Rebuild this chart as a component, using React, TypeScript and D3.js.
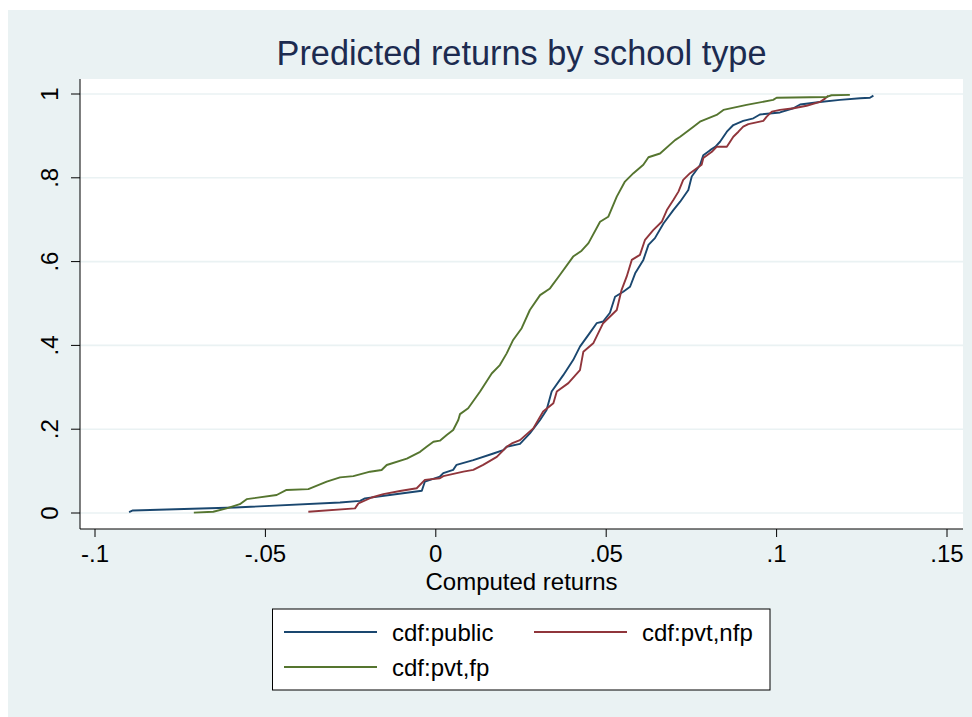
import React from "react";
import * as d3 from "d3";

const xTicks = [-0.1, -0.05, 0, 0.05, 0.1, 0.15];
const xTickLabels = ["-.1", "-.05", "0", ".05", ".1", ".15"];
const yTicks = [0, 0.2, 0.4, 0.6, 0.8, 1];
const yTickLabels = ["0", ".2", ".4", ".6", ".8", "1"];

const seriesNames = ["cdf:public", "cdf:pvt,nfp", "cdf:pvt,fp"];

const cdfPublic: [number, number][] = [
  [-0.09, 0.002], [-0.0889, 0.006], [-0.0589, 0.013], [-0.0281, 0.025], [-0.0222, 0.029],
  [-0.0208, 0.035], [-0.0135, 0.043], [-0.0041, 0.053], [-0.0032, 0.075], [0.0012, 0.087],
  [0.0022, 0.095], [0.0051, 0.103], [0.0061, 0.115], [0.011, 0.126], [0.0169, 0.142],
  [0.0198, 0.15], [0.0208, 0.158], [0.0247, 0.165], [0.0276, 0.19], [0.0306, 0.222],
  [0.0325, 0.246], [0.034, 0.29], [0.0374, 0.329], [0.0403, 0.365], [0.0423, 0.397],
  [0.0452, 0.43], [0.0472, 0.453], [0.0491, 0.457], [0.0511, 0.478], [0.0526, 0.516],
  [0.055, 0.528], [0.057, 0.54], [0.0585, 0.572], [0.0609, 0.604], [0.0624, 0.64],
  [0.0643, 0.656], [0.0668, 0.691], [0.0697, 0.723], [0.0717, 0.743], [0.0741, 0.771],
  [0.0751, 0.803], [0.0775, 0.83], [0.0785, 0.854], [0.0805, 0.866], [0.082, 0.874],
  [0.0834, 0.886], [0.0854, 0.91], [0.0873, 0.926], [0.0902, 0.936], [0.0932, 0.942],
  [0.0951, 0.951], [0.101, 0.956], [0.1049, 0.966], [0.1069, 0.975], [0.1127, 0.981],
  [0.1186, 0.986], [0.1245, 0.99], [0.1274, 0.991], [0.1284, 0.996],
];

const cdfPvtNfp: [number, number][] = [
  [-0.0374, 0.003], [-0.0237, 0.011], [-0.0227, 0.023], [-0.0188, 0.037], [-0.0154, 0.045],
  [-0.0105, 0.0525], [-0.0056, 0.059], [-0.0032, 0.079], [0.0012, 0.083], [0.0022, 0.088],
  [0.0081, 0.0986], [0.011, 0.103], [0.0139, 0.115], [0.0179, 0.134], [0.0208, 0.158],
  [0.0223, 0.166], [0.0247, 0.174], [0.0286, 0.202], [0.0315, 0.242], [0.0345, 0.262],
  [0.0355, 0.29], [0.0389, 0.31], [0.0423, 0.341], [0.0433, 0.385], [0.0462, 0.405],
  [0.0491, 0.453], [0.0531, 0.4845], [0.0545, 0.532], [0.056, 0.564], [0.0575, 0.604],
  [0.0599, 0.616], [0.0614, 0.652], [0.0638, 0.675], [0.0663, 0.695], [0.0678, 0.723],
  [0.0697, 0.747], [0.0712, 0.767], [0.0726, 0.795], [0.0746, 0.811], [0.078, 0.831],
  [0.0785, 0.847], [0.081, 0.862], [0.0824, 0.874], [0.0854, 0.874], [0.0873, 0.898],
  [0.0888, 0.91], [0.0902, 0.922], [0.0917, 0.928], [0.0961, 0.936], [0.0971, 0.946],
  [0.0986, 0.958], [0.101, 0.962], [0.105, 0.966], [0.1088, 0.972], [0.1127, 0.981],
  [0.1142, 0.989], [0.1152, 0.996],
];

const cdfPvtFp: [number, number][] = [
  [-0.071, 0.001], [-0.0653, 0.003], [-0.0614, 0.011], [-0.0575, 0.021], [-0.0555, 0.033],
  [-0.0467, 0.043], [-0.0438, 0.055], [-0.0374, 0.057], [-0.032, 0.075], [-0.0281, 0.085],
  [-0.0242, 0.088], [-0.0193, 0.0986], [-0.0159, 0.1026], [-0.0144, 0.1146], [-0.0085, 0.13],
  [-0.0046, 0.146], [-0.0027, 0.158], [-0.0007, 0.17], [0.0012, 0.1726], [0.0032, 0.186],
  [0.0051, 0.198], [0.0066, 0.222], [0.0071, 0.236], [0.0095, 0.25], [0.013, 0.29],
  [0.0164, 0.333], [0.0188, 0.353], [0.0208, 0.381], [0.0227, 0.413], [0.0252, 0.441],
  [0.0276, 0.4845], [0.0306, 0.52], [0.0335, 0.536], [0.0364, 0.568], [0.0403, 0.612],
  [0.0428, 0.626], [0.0448, 0.644], [0.0482, 0.695], [0.0506, 0.707], [0.0531, 0.755],
  [0.0555, 0.791], [0.058, 0.811], [0.0609, 0.831], [0.0624, 0.849], [0.0658, 0.858],
  [0.0702, 0.89], [0.0717, 0.898], [0.0756, 0.922], [0.0775, 0.934], [0.0824, 0.95],
  [0.0844, 0.962], [0.0912, 0.974], [0.099, 0.986], [0.1, 0.991], [0.1147, 0.993],
  [0.1161, 0.997], [0.1215, 0.998],
];

const COLORS = ["#1A476F", "#90353B", "#55752F"];
const FONT = "'Liberation Sans', Arial, Helvetica, sans-serif";

export default function App() {
  const W = 972;
  const H = 717;
  const plot = { left: 80, right: 963, top: 79, bottom: 529 };
  const x = d3.scaleLinear().domain([-0.1, 0.15]).range([95, 947]);
  const y = d3.scaleLinear().domain([0, 1]).range([513, 94]);
  const line = d3
    .line<[number, number]>()
    .x((d) => x(d[0]))
    .y((d) => y(d[1]))
    .curve(d3.curveLinear);

  const series = [cdfPublic, cdfPvtNfp, cdfPvtFp];
  const cx = (plot.left + plot.right) / 2;

  const legend = { x: 272.5, y: 609, w: 497.5, h: 81 };
  const legendItems = [
    { name: seriesNames[0], color: COLORS[0], kx: 284, ty: 632 },
    { name: seriesNames[1], color: COLORS[1], kx: 534, ty: 632 },
    { name: seriesNames[2], color: COLORS[2], kx: 284, ty: 667 },
  ];

  return (
    <svg
      width={W}
      height={H}
      style={{ position: "absolute", left: 0, top: 0 }}
      fontFamily={FONT}
    >
      <rect x={0} y={0} width={W} height={H} fill="#ffffff" />
      <rect x={8} y={10} width={W - 8} height={H - 10} fill="#EAF2F3" />
      <rect
        x={plot.left}
        y={plot.top}
        width={plot.right - plot.left}
        height={plot.bottom - plot.top}
        fill="#ffffff"
      />
      {yTicks.map((t) => (
        <line
          key={"g" + t}
          x1={plot.left}
          x2={plot.right}
          y1={y(t)}
          y2={y(t)}
          stroke="#EAF2F3"
          strokeWidth={1.6}
        />
      ))}
      <text x={cx} y={65} textAnchor="middle" fontSize={34.3} fill="#1C2B50">
        Predicted returns by school type
      </text>
      {series.map((s, i) => (
        <path
          key={i}
          d={line(s) || ""}
          fill="none"
          stroke={COLORS[i]}
          strokeWidth={1.9}
          strokeLinejoin="round"
        />
      ))}
      <line x1={plot.left} x2={plot.left} y1={plot.top} y2={plot.bottom} stroke="#000" strokeWidth={1} />
      <line x1={plot.left} x2={plot.right} y1={plot.bottom} y2={plot.bottom} stroke="#000" strokeWidth={1} />
      {yTicks.map((t, i) => (
        <g key={"y" + t}>
          <line x1={plot.left - 9} x2={plot.left} y1={y(t)} y2={y(t)} stroke="#000" strokeWidth={1} />
          <text
            transform={`translate(58,${y(t)}) rotate(-90)`}
            textAnchor="middle"
            fontSize={24}
            fill="#000"
          >
            {yTickLabels[i]}
          </text>
        </g>
      ))}
      {xTicks.map((t, i) => (
        <g key={"x" + t}>
          <line x1={x(t)} x2={x(t)} y1={plot.bottom} y2={plot.bottom + 8} stroke="#000" strokeWidth={1} />
          <text x={x(t)} y={562} textAnchor="middle" fontSize={24} fill="#000">
            {xTickLabels[i]}
          </text>
        </g>
      ))}
      <text x={cx} y={590} textAnchor="middle" fontSize={24} fill="#000">
        Computed returns
      </text>
      <rect
        x={legend.x}
        y={legend.y}
        width={legend.w}
        height={legend.h}
        fill="#ffffff"
        stroke="#000"
        strokeWidth={1}
      />
      {legendItems.map((it) => (
        <g key={it.name}>
          <line x1={it.kx} x2={it.kx + 93} y1={it.ty} y2={it.ty} stroke={it.color} strokeWidth={2} />
          <text x={it.kx + 108} y={it.ty + 9} fontSize={24} fill="#000">
            {it.name}
          </text>
        </g>
      ))}
    </svg>
  );
}
